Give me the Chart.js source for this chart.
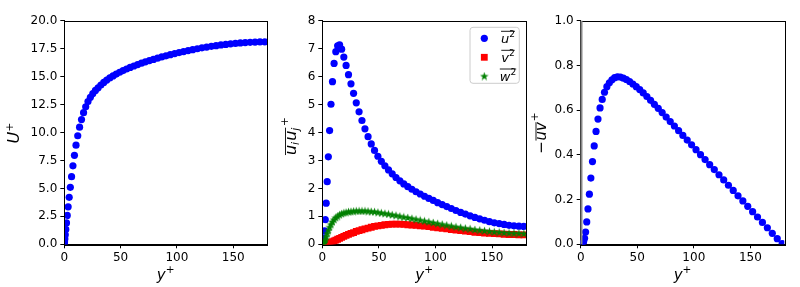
<!DOCTYPE html>
<html><head><meta charset="utf-8">
<script src="https://cdn.jsdelivr.net/npm/chart.js@4/dist/chart.umd.min.js"></script>
<style>
html,body{margin:0;padding:0;background:#fff;}
#wrap{position:relative;width:800px;height:287px;background:#fff;}
canvas{position:absolute;left:0;top:0;}
</style></head><body>
<div id="wrap">
<canvas id="c1" width="800" height="287"></canvas>
<canvas id="c2" width="800" height="287"></canvas>
<canvas id="c3" width="800" height="287"></canvas>
</div>
<script>
// ---- data ----
const yPlus = [0, 0.054, 0.215, 0.483, 0.858, 1.34, 1.93, 2.62, 3.42, 4.33, 5.34, 6.45, 7.67, 8.99, 10.41, 11.94, 13.56, 15.28, 17.10, 19.02, 21.03, 23.14, 25.34, 27.64, 30.02, 32.49, 35.05, 37.70, 40.43, 43.25, 46.14, 49.12, 52.17, 55.30, 58.50, 61.78, 65.12, 68.54, 72.01, 75.56, 79.16, 82.83, 86.55, 90.33, 94.16, 98.04, 101.96, 105.94, 109.96, 114.02, 118.11, 122.25, 126.42, 130.61, 134.84, 139.09, 143.37, 147.67, 151.99, 156.32, 160.66, 165.02, 169.38, 173.75, 178.12];
const Uplus = [0, 0.054, 0.215, 0.48, 0.85, 1.33, 1.91, 2.58, 3.35, 4.20, 5.10, 6.05, 7.02, 7.96, 8.87, 9.71, 10.48, 11.16, 11.77, 12.30, 12.77, 13.15, 13.48, 13.76, 14.00, 14.25, 14.48, 14.69, 14.88, 15.06, 15.23, 15.39, 15.54, 15.68, 15.82, 15.95, 16.08, 16.20, 16.32, 16.43, 16.54, 16.65, 16.76, 16.86, 16.96, 17.06, 17.15, 17.24, 17.33, 17.41, 17.49, 17.57, 17.64, 17.71, 17.77, 17.83, 17.88, 17.93, 17.97, 18.01, 18.04, 18.07, 18.09, 18.10, 18.11];
const uu = [0, 0.0004, 0.006, 0.03, 0.095, 0.23, 0.48, 0.88, 1.47, 2.24, 3.13, 4.07, 5.01, 5.82, 6.47, 6.89, 7.10, 7.14, 6.98, 6.70, 6.40, 6.07, 5.74, 5.40, 5.06, 4.74, 4.43, 4.13, 3.85, 3.59, 3.36, 3.15, 2.97, 2.81, 2.66, 2.52, 2.39, 2.27, 2.16, 2.06, 1.97, 1.88, 1.80, 1.72, 1.64, 1.57, 1.49, 1.42, 1.35, 1.28, 1.21, 1.14, 1.08, 1.02, 0.96, 0.91, 0.86, 0.81, 0.77, 0.74, 0.71, 0.68, 0.66, 0.65, 0.64];
const vv = [0, 0, 0, 0.0001, 0.0005, 0.002, 0.004, 0.008, 0.014, 0.023, 0.035, 0.05, 0.07, 0.093, 0.12, 0.15, 0.18, 0.215, 0.25, 0.285, 0.32, 0.355, 0.39, 0.42, 0.46, 0.49, 0.52, 0.55, 0.58, 0.61, 0.64, 0.66, 0.68, 0.70, 0.71, 0.72, 0.72, 0.72, 0.71, 0.70, 0.69, 0.68, 0.66, 0.65, 0.63, 0.61, 0.59, 0.57, 0.55, 0.53, 0.51, 0.49, 0.47, 0.45, 0.43, 0.42, 0.40, 0.39, 0.38, 0.37, 0.36, 0.35, 0.35, 0.34, 0.34];
const ww = [0, 0.0001, 0.002, 0.008, 0.025, 0.06, 0.11, 0.19, 0.29, 0.40, 0.51, 0.62, 0.72, 0.81, 0.89, 0.96, 1.01, 1.06, 1.10, 1.13, 1.15, 1.17, 1.18, 1.19, 1.20, 1.20, 1.20, 1.20, 1.19, 1.18, 1.17, 1.15, 1.13, 1.11, 1.09, 1.06, 1.04, 1.01, 0.98, 0.96, 0.93, 0.90, 0.87, 0.84, 0.81, 0.78, 0.75, 0.72, 0.69, 0.66, 0.63, 0.61, 0.58, 0.56, 0.53, 0.51, 0.49, 0.47, 0.45, 0.44, 0.42, 0.41, 0.40, 0.40, 0.39];
const minusUV = [0, 0, 0, 0.0001, 0.0005, 0.0017, 0.005, 0.012, 0.027, 0.055, 0.10, 0.158, 0.224, 0.296, 0.37, 0.44, 0.505, 0.56, 0.61, 0.648, 0.68, 0.705, 0.722, 0.736, 0.745, 0.749, 0.748, 0.743, 0.737, 0.728, 0.717, 0.705, 0.692, 0.677, 0.661, 0.644, 0.626, 0.608, 0.589, 0.569, 0.549, 0.529, 0.508, 0.487, 0.466, 0.445, 0.423, 0.401, 0.379, 0.356, 0.334, 0.311, 0.288, 0.264, 0.241, 0.217, 0.194, 0.170, 0.146, 0.122, 0.098, 0.074, 0.049, 0.025, 0.003];

const xTicks = [0, 50, 100, 150];
const yTicks1 = [0, 2.5, 5, 7.5, 10, 12.5, 15, 17.5, 20];
const yTicks2 = [0, 1, 2, 3, 4, 5, 6, 7, 8];
const yTicks3 = [0, 0.2, 0.4, 0.6, 0.8, 1.0];
const legendLabels = ['u', 'v', 'w'];

// ---- styling ----
const BLUE = '#0000ff', RED = '#ff0000', GREEN = '#008000';
const FAM = "'DejaVu Sans'";
const TICK_FONT = {family: 'DejaVu Sans', size: 12};
const AREA_TOP = 20.7, AREA_BOTTOM = 244.3;
const areas = [
  {left: 64.3, right: 267},
  {left: 322.3, right: 526},
  {left: 580.7, right: 784.3}
];

function pts(ys) { return yPlus.map((x, i) => ({x: x, y: ys[i]})); }

function starCanvas(size, color) {
  const c = document.createElement('canvas');
  c.width = size; c.height = size;
  const g = c.getContext('2d');
  g.fillStyle = color;
  g.beginPath();
  const cx = size / 2, cy = size / 2 + size * 0.06, R = size / 2, r = R * 0.4;
  for (let i = 0; i < 10; i++) {
    const a = -Math.PI / 2 + i * Math.PI / 5;
    const rr = (i % 2) ? r : R;
    g.lineTo(cx + rr * Math.cos(a), cy + rr * Math.sin(a));
  }
  g.closePath(); g.fill();
  return c;
}
const STAR = starCanvas(9, GREEN);

// draw a sequence of math-like runs; origin = baseline centre
function drawMath(ctx, runs, x, y, rot, olY) {
  ctx.save();
  ctx.translate(x, y);
  if (rot) ctx.rotate(-Math.PI / 2);
  let w = 0;
  runs.forEach(r => { ctx.font = r.f; r.w = ctx.measureText(r.t).width; r.x = w; w += r.w + (r.gap || 0); });
  const x0 = -w / 2;
  ctx.fillStyle = '#000';
  ctx.textBaseline = 'alphabetic';
  ctx.textAlign = 'left';
  let olMin = Infinity, olMax = -Infinity;
  runs.forEach(r => {
    ctx.font = r.f;
    ctx.fillText(r.t, x0 + r.x, r.dy || 0);
    if (r.ol) { olMin = Math.min(olMin, x0 + r.x); olMax = Math.max(olMax, x0 + r.x + r.w); }
  });
  if (olMin < olMax) {
    ctx.strokeStyle = '#000'; ctx.lineWidth = 0.9;
    ctx.beginPath(); ctx.moveTo(olMin, olY); ctx.lineTo(olMax, olY); ctx.stroke();
  }
  ctx.restore();
}
const IT = s => 'oblique ' + s + 'px ' + FAM;
const RM = s => s + 'px ' + FAM;

const framePlugin = {
  id: 'frame',
  afterDraw(chart) {
    const {ctx, chartArea: a} = chart;
    ctx.save();
    ctx.strokeStyle = '#000'; ctx.lineWidth = 1;
    ctx.strokeRect(Math.round(a.left) + 0.5, Math.round(a.top) + 0.5, Math.round(a.right - a.left), Math.round(a.bottom - a.top));
    ctx.restore();
    const cx = (a.left + a.right) / 2;
    drawMath(ctx, [{t: 'y', f: IT(15)}, {t: '+', f: RM(10.5), dy: -6.5}], cx, 279.5, false, 0);
  }
};

function makeChart(id, idx, datasets, yMax, yTicks, yFmt, labelFn) {
  const area = areas[idx];
  return new Chart(document.getElementById(id), {
    type: 'scatter',
    data: {datasets: datasets},
    options: {
      responsive: false, animation: false,
      layout: {padding: {left: area.left - 60, right: 800 - area.right, top: AREA_TOP, bottom: 0}},
      plugins: {legend: {display: false}, tooltip: {enabled: false}},
      scales: {
        x: {
          type: 'linear', min: 0, max: 180,
          afterBuildTicks: s => { s.ticks = xTicks.map(v => ({value: v})); },
          afterFit: s => { s.height = 287 - AREA_BOTTOM; },
          grid: {display: true, drawOnChartArea: false, drawTicks: true, tickLength: 4, color: '#000', lineWidth: 1},
          border: {display: true, color: '#000', width: 1},
          ticks: {font: TICK_FONT, color: '#000', padding: 2, maxRotation: 0, autoSkip: false, callback: v => String(v)}
        },
        y: {
          type: 'linear', min: 0, max: yMax,
          afterBuildTicks: s => { s.ticks = yTicks.map(v => ({value: v})); },
          afterFit: s => { s.width = 60; },
          grid: {display: true, drawOnChartArea: false, drawTicks: true, tickLength: 4, color: '#000', lineWidth: 1},
          border: {display: true, color: '#000', width: 1},
          ticks: {font: TICK_FONT, color: '#000', padding: 3, autoSkip: false, callback: yFmt}
        }
      }
    },
    plugins: [framePlugin, {id: 'lbl' + idx, afterDraw: labelFn}]
  });
}

const dotStyle = (data, color, order) => ({data: data, pointStyle: 'circle', pointRadius: 3.6, pointBorderWidth: 0,
  backgroundColor: color, borderColor: color, showLine: false, clip: 0, order: order});

makeChart('c1', 0, [dotStyle(pts(Uplus), BLUE, 1)], 20, yTicks1, v => v.toFixed(1), chart => {
  drawMath(chart.ctx, [{t: 'U', f: IT(16)}, {t: '+', f: RM(11), dy: -5.5}], 18.5, 133, true, 0);
});

makeChart('c2', 1, [
  dotStyle(pts(uu), BLUE, 3),
  {data: pts(vv), pointStyle: 'rect', pointRadius: 4.8, pointBorderWidth: 0, backgroundColor: RED, borderColor: RED, showLine: false, clip: 0, order: 2},
  {data: pts(ww), pointStyle: STAR, pointRadius: 4.5, backgroundColor: GREEN, borderColor: GREEN, showLine: false, clip: 0, order: 1}
], 8, yTicks2, v => String(v), chart => {
  const ctx = chart.ctx;
  drawMath(ctx, [
    {t: 'u', f: IT(16), ol: true}, {t: 'i', f: IT(11), dy: 3, ol: true, gap: 1},
    {t: 'u', f: IT(16), ol: true}, {t: 'j', f: IT(11), dy: 3, ol: true, gap: 1.5},
    {t: '+', f: RM(11), dy: -7.5}
  ], 295.5, 136, true, -10);
  // legend
  ctx.save();
  const L = 470, T = 27.3, W = 49.3, H = 56, R = 3;
  ctx.beginPath();
  ctx.moveTo(L + R, T); ctx.lineTo(L + W - R, T); ctx.quadraticCurveTo(L + W, T, L + W, T + R);
  ctx.lineTo(L + W, T + H - R); ctx.quadraticCurveTo(L + W, T + H, L + W - R, T + H);
  ctx.lineTo(L + R, T + H); ctx.quadraticCurveTo(L, T + H, L, T + H - R);
  ctx.lineTo(L, T + R); ctx.quadraticCurveTo(L, T, L + R, T); ctx.closePath();
  ctx.fillStyle = 'rgba(255,255,255,0.8)'; ctx.fill();
  ctx.strokeStyle = '#cccccc'; ctx.lineWidth = 1; ctx.stroke();
  const rows = [38.3, 57.3, 76];
  const mx = 484.3;
  ctx.fillStyle = BLUE; ctx.beginPath(); ctx.arc(mx, rows[0], 3.6, 0, Math.PI * 2); ctx.fill();
  ctx.fillStyle = RED; ctx.fillRect(mx - 3.4, rows[1] - 3.4, 6.8, 6.8);
  ctx.drawImage(STAR, mx - 4.5, rows[2] - 4.5);
  ctx.restore();
  legendLabels.forEach((s, i) => {
    drawMath(ctx, [{t: s, f: IT(13), ol: true}, {t: '2', f: RM(9), dy: -5.5, ol: true}], 508, rows[i] + 4.5, false, -11.5);
  });
});

makeChart('c3', 2, [dotStyle(pts(minusUV), BLUE, 1)], 1, yTicks3, v => v.toFixed(1), chart => {
  const ctx = chart.ctx, a = chart.chartArea;
  ctx.save();
  ctx.strokeStyle = '#888888'; ctx.lineWidth = 2;
  ctx.beginPath(); ctx.moveTo(Math.round(a.left) + 0.5, a.top); ctx.lineTo(Math.round(a.left) + 0.5, a.bottom); ctx.stroke();
  ctx.restore();
  drawMath(ctx, [
    {t: '\u2212', f: RM(15), gap: 0.5}, {t: 'uv', f: IT(15), ol: true, gap: 1}, {t: '+', f: RM(10.5), dy: -7.5}
  ], 545.5, 133, true, -9.5);
});
</script>
</body></html>
